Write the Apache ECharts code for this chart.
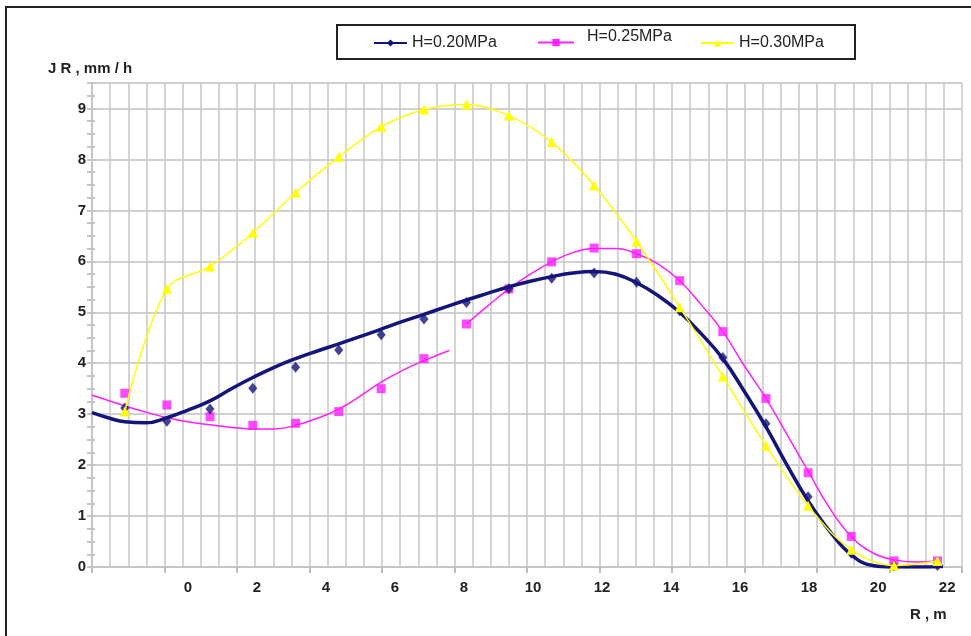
<!DOCTYPE html>
<html>
<head>
<meta charset="utf-8">
<script src="https://cdn.jsdelivr.net/npm/echarts@6/dist/echarts.min.js"></script>
<style>html,body{margin:0;padding:0;background:#fff;}#c{width:971px;height:636px;}</style>
</head>
<body>
<div id="c"></div>
<script>
// Measured radius positions of the data points (R, m)
const R = [-1.83, -0.61, 0.64, 1.88, 3.12, 4.37, 5.60, 6.84, 8.07, 9.30, 10.54, 11.77, 13.00, 14.25, 15.50, 16.75, 17.97, 19.22, 20.46, 21.72];
// Measured points JR (mm/h)
const J020 = [3.12, 2.86, 3.10, 3.51, 3.92, 4.26, 4.56, 4.87, 5.19, 5.46, 5.67, 5.77, 5.59, 5.03, 4.11, 2.81, 1.38, 0.27, 0.02, 0.03];
const J025 = [3.41, 3.18, 2.95, 2.78, 2.82, 3.05, 3.50, 4.09, 4.77, 5.46, 5.99, 6.26, 6.15, 5.62, 4.62, 3.31, 1.85, 0.60, 0.12, 0.12];
const J030 = [3.05, 5.46, 5.90, 6.56, 7.35, 8.05, 8.64, 8.98, 9.08, 8.86, 8.34, 7.49, 6.39, 5.10, 3.74, 2.38, 1.20, 0.34, 0.03, 0.12];
// Fitted curve H=0.20MPa
const fitR020 = [-2.78, -2.22, -1.83, -1.22, -0.61, 0.00, 0.64, 1.26, 1.88, 2.50, 3.12, 3.75, 4.37, 4.98, 5.60, 6.22, 6.84, 7.45, 8.07, 8.68, 9.30, 9.92, 10.54, 11.15, 11.77, 12.38, 13.00, 13.62, 14.25, 14.87, 15.50, 16.12, 16.75, 17.36, 17.97, 18.60, 19.22, 19.84, 20.46, 21.10, 21.88];
const fitJ020 = [3.03, 2.91, 2.85, 2.83, 2.93, 3.08, 3.26, 3.50, 3.72, 3.92, 4.09, 4.24, 4.38, 4.52, 4.67, 4.82, 4.96, 5.10, 5.24, 5.37, 5.50, 5.61, 5.70, 5.77, 5.80, 5.75, 5.58, 5.33, 5.00, 4.58, 4.09, 3.45, 2.75, 2.00, 1.30, 0.70, 0.24, 0.03, 0.00, 0.00, 0.01];
// Fitted curves H=0.25MPa (two pieces)
const fitRa025 = [-2.78, -2.22, -1.83, -1.22, -0.61, 0.00, 0.64, 1.26, 1.88, 2.50, 3.12, 3.75, 4.37, 4.98, 5.60, 6.22, 6.84, 7.57];
const fitJa025 = [3.37, 3.25, 3.16, 3.04, 2.93, 2.85, 2.79, 2.74, 2.71, 2.71, 2.78, 2.92, 3.10, 3.35, 3.63, 3.86, 4.05, 4.25];
const fitRb025 = [8.07, 8.68, 9.30, 9.92, 10.54, 11.15, 11.77, 12.38, 13.00, 13.62, 14.25, 14.87, 15.50, 16.12, 16.75, 17.36, 17.97, 18.60, 19.22, 19.84, 20.46, 21.10, 21.72];
const fitJb025 = [4.77, 5.12, 5.46, 5.75, 5.99, 6.17, 6.25, 6.25, 6.15, 5.95, 5.62, 5.15, 4.62, 3.95, 3.31, 2.60, 1.88, 1.15, 0.60, 0.28, 0.14, 0.10, 0.12];
// Tick labels
const xTicks = [0, 2, 4, 6, 8, 10, 12, 14, 16, 18, 20, 22];
const yTicks = [0, 1, 2, 3, 4, 5, 6, 7, 8, 9];
const names = ['H=0.20MPa', 'H=0.25MPa', 'H=0.30MPa'];

const zip = (a, b) => a.map((v, i) => [v, b[i]]);
const FONT = 'Liberation Sans';
const C020 = '#14147a', C025 = '#ff1eff', C030 = '#ffff00';

const chart = echarts.init(document.getElementById('c'));
const option = {
  animation: false,
  backgroundColor: '#ffffff',
  grid: { left: 92, top: 83, right: 9, bottom: 69 },
  xAxis: [
    { type: 'value', position: 'bottom', min: -2.78, max: 22.43,
      axisLine: { show: false, onZero: false }, axisTick: { show: false }, splitLine: { show: false },
      axisLabel: { customValues: xTicks, fontSize: 15, fontWeight: 'bold', color: '#222', margin: 13, fontFamily: FONT } },
    { type: 'value', position: 'bottom', min: 0, max: 48, interval: 1,
      axisLine: { show: true, onZero: false, lineStyle: { color: '#c4c4c4', width: 2 } },
      axisTick: { show: false }, axisLabel: { show: false },
      splitLine: { show: true, lineStyle: { color: '#cacaca', width: 1.6 } } },
    { type: 'value', position: 'bottom', min: 0, max: 12, interval: 1,
      axisLine: { show: false, onZero: false }, axisLabel: { show: false }, splitLine: { show: false },
      axisTick: { show: true, length: 6, lineStyle: { color: '#bdbdbd', width: 2 } } }
  ],
  yAxis: [
    { type: 'value', position: 'left', min: 0, max: 9.5, interval: 1,
      axisLine: { show: true, onZero: false, lineStyle: { color: '#c4c4c4', width: 2 } },
      axisTick: { show: false },
      axisLabel: { customValues: yTicks, fontSize: 15, fontWeight: 'bold', color: '#222', margin: 6, fontFamily: FONT },
      splitLine: { show: true, lineStyle: { color: '#d0d0d0', width: 2 } } },
    { type: 'value', position: 'left', min: 0, max: 9.5, interval: 0.25,
      axisLine: { show: false, onZero: false }, axisLabel: { show: false }, splitLine: { show: false },
      axisTick: { show: true, length: 5, lineStyle: { color: '#c4c4c4', width: 2 } } },
    { type: 'value', position: 'left', min: 0, max: 9.5, interval: 0.25,
      axisLine: { show: false, onZero: false }, axisLabel: { show: false }, splitLine: { show: false },
      axisTick: { show: true, inside: true, length: 3, lineStyle: { color: '#c4c4c4', width: 2 } } }
  ],
  legend: [
    { data: [names[0]], left: 373, top: 35, padding: 0, itemWidth: 33, itemHeight: 9, z: 20,
      textStyle: { fontSize: 16, color: '#222', fontFamily: FONT } },
    { data: [names[1]], left: 537, top: 38, padding: 0, itemWidth: 36, itemHeight: 9, z: 20,
      formatter: () => '', textStyle: { fontSize: 16, color: '#222', fontFamily: FONT } },
    { data: [names[2]], left: 700, top: 35, padding: 0, itemWidth: 33, itemHeight: 9, z: 20,
      textStyle: { fontSize: 16, color: '#222', fontFamily: FONT } }
  ],
  graphic: [
    { type: 'rect', z: -10, shape: { x: 6, y: 7, width: 1000, height: 700 }, style: { fill: 'none', stroke: '#222', lineWidth: 2 } },
    { type: 'rect', z: 1, shape: { x: 337, y: 25, width: 518, height: 34 }, style: { fill: '#fff', stroke: '#222', lineWidth: 2 } },
    { type: 'text', z: 30, left: 587, top: 29, style: { text: names[1], font: '16px "Liberation Sans"', fill: '#222' } },
    { type: 'text', left: 48, top: 61, style: { text: 'J R , mm / h', font: 'bold 15px "Liberation Sans"', fill: '#222' } },
    { type: 'text', left: 910, top: 607, style: { text: 'R , m', font: 'bold 15px "Liberation Sans"', fill: '#222' } }
  ],
  series: [
    { name: names[1], type: 'line', smooth: 0.45, data: zip(fitRa025, fitJa025), showSymbol: false, symbol: 'rect', symbolSize: 9,
      itemStyle: { color: C025 }, lineStyle: { color: C025, width: 1.5 }, z: 3 },
    { name: 'fit025b', type: 'line', smooth: 0.45, data: zip(fitRb025, fitJb025), showSymbol: false,
      itemStyle: { color: C025 }, lineStyle: { color: C025, width: 1.5 }, z: 3 },
    { name: 'pts025', type: 'scatter', data: zip(R, J025), symbol: 'rect', symbolSize: 9,
      itemStyle: { color: C025 }, z: 4 },
    { name: names[0], type: 'line', smooth: 0.45, data: zip(fitR020, fitJ020), showSymbol: false, symbol: 'diamond', symbolSize: 10,
      itemStyle: { color: C020 }, lineStyle: { color: C020, width: 3.5 }, z: 5 },
    { name: 'pts020', type: 'scatter', data: zip(R, J020), symbol: 'diamond', symbolSize: [9, 11],
      itemStyle: { color: C020 }, z: 6 },
    { name: names[2], type: 'line', smooth: 0.35, data: zip(R, J030), symbol: 'triangle', symbolSize: 10, showSymbol: true,
      itemStyle: { color: C030 }, lineStyle: { color: C030, width: 1.5 }, z: 7 }
  ]
};
chart.setOption(option);
</script>
</body>
</html>
